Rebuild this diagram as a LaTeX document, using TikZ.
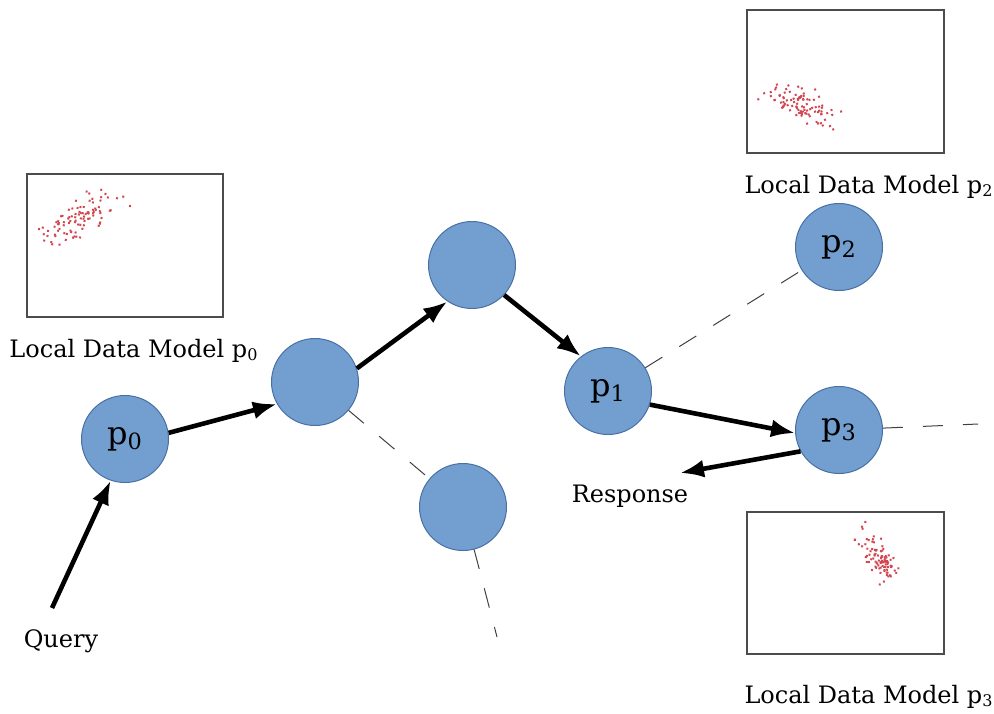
\documentclass[tikz,border=0pt]{standalone}
\usepackage{fontspec}
\setmainfont{DejaVu Serif}
\usetikzlibrary{arrows.meta}
\definecolor{peerblue}{RGB}{114,159,207}
\definecolor{peeredge}{RGB}{72,112,165}
\definecolor{dotred}{RGB}{210,70,80}
\begin{document}
\begin{tikzpicture}
		[x=0.5pt, y=-0.5pt,
		peer/.style={circle,fill=peerblue,draw=peeredge,line width=0.5pt,minimum size=43.5pt,inner sep=0pt,font=\fontsize{16}{18}\selectfont},
		flow/.style={line width=2.3pt,-{Latex[length=12pt,width=9pt]}},
		link/.style={line width=0.5pt,black!75,dash pattern=on 10pt off 10pt},
		plotbox/.style={draw=black!70,line width=0.7pt},
		caption/.style={font=\fontsize{12}{14}\selectfont,anchor=base}]
		\useasboundingbox (0,0) rectangle (994,713);

		% Peers
		\node [peer] (p0) at (125,439) {p\textsubscript{0}};
		\node [peer] (hopa) at (315,382) {};
		\node [peer] (hopb) at (472,265) {};
		\node [peer] (p1) at (608,391) {p\textsubscript{1}};
		\node [peer] (p2) at (839,247) {p\textsubscript{2}};
		\node [peer] (p3) at (839,430) {p\textsubscript{3}};
		\node [peer] (hopc) at (463,507) {};

		% Local data models
		\draw[plotbox] (27,174) rectangle (223,317);
		\draw[plotbox] (747,10) rectangle (944,153);
		\draw[plotbox] (747,512) rectangle (944,654);
		\pgfmathsetseed{42}
		\foreach \cx/\cy/\ang/\len/\wid in {80/218/33/20/8, 802/105/-25/18/8, 879/556/-55/15/7} {
			\begin{scope}[shift={(\cx,\cy)}, rotate=\ang]
				\foreach \k in {1,...,95} {
					\pgfmathsetmacro\u{(rand+rand+rand)*\len}
					\pgfmathsetmacro\v{(rand+rand+rand)*\wid}
					\fill[dotred] (\u,\v) circle (0.7pt);
				}
			\end{scope}
		}
		\node [caption] (cap0) at (134,357) {Local Data Model p\textsubscript{0}};
		\node [caption] (cap2) at (869,193) {Local Data Model p\textsubscript{2}};
		\node [caption] (cap3) at (869,703) {Local Data Model p\textsubscript{3}};

		% Query and response
		\node [caption] (query) at (61,647) {Query};
		\node [caption] (response) at (630,502) {Response};
		\coordinate (ask) at (52,608);
		\coordinate (reply) at (680,473);

		% Routing path
		\draw[flow] (ask) -- (p0.251);
		\draw[flow] (p0.8) -- (hopa.210);
		\draw[flow] (hopa.18) -- (hopb.236);
		\draw[flow] (hopb.317) -- (p1.128);
		\draw[flow] (p1.342) -- (p3.184);
		\draw[flow] (p3.209) -- (reply);

		% Other links
		\coordinate (off3) at (978,424);
		\coordinate (offc) at (497,637);
		\draw[link] (p1) -- (p2);
		\draw[link] (p3) -- (off3);
		\draw[link] (hopa) -- (hopc);
		\draw[link] (hopc) -- (offc);
	\end{tikzpicture}
\end{document}
